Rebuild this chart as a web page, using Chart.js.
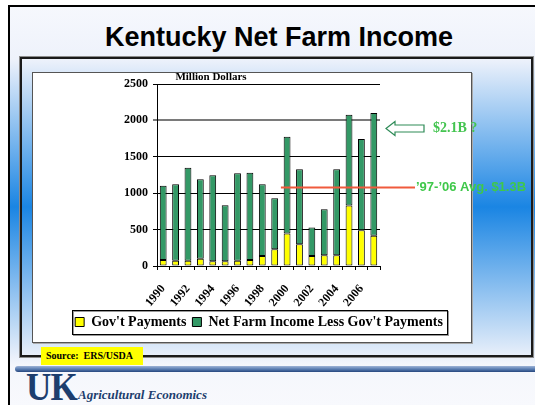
<!DOCTYPE html>
<html><head><meta charset="utf-8">
<script src="https://cdn.jsdelivr.net/npm/chart.js@4.4.0/dist/chart.umd.min.js"></script>
<style>
html,body{margin:0;padding:0;background:#fff;}
body{width:535px;height:405px;position:relative;overflow:hidden;font-family:'Liberation Serif','Times New Roman',serif;}
#slide{position:absolute;left:8px;top:5px;width:527px;height:400px;border-left:2px solid #000;border-top:2px solid #000;box-sizing:border-box;
 background:linear-gradient(to bottom,#f6f8fd 0px,#eef2fb 52px,#1a85e3 200px,#eaf0fa 350px,#f5f7fc 360px,#f8f9fd 400px);}
#panel{position:absolute;left:20px;top:57px;width:513px;height:300px;box-sizing:border-box;border:2px solid #1a1a1a;box-shadow:0 0 0 1px #8c8c8c;}
#white{position:absolute;left:32px;top:72px;width:440px;height:271px;box-sizing:border-box;background:#fff;border:1px solid #555;box-shadow:1px 1px 0 #aaa;}
#title{position:absolute;left:0;top:24px;width:558px;text-align:center;font:bold 27px/27px 'Liberation Sans',Arial,sans-serif;color:#000;}
#bar{position:absolute;left:15px;top:366px;width:520px;height:6px;border-radius:3px 0 0 3px;background:linear-gradient(to bottom,#9db3d6,#5b7fb4 50%,#27477e);}
#source{position:absolute;left:41px;top:347px;width:102px;height:18px;background:#ffff00;font:bold 10px/18px 'Liberation Serif','Times New Roman',serif;padding-left:5px;box-sizing:border-box;white-space:pre;color:#000;}
#uk{position:absolute;left:26px;top:367px;font:bold 39px/39px 'Liberation Serif','Times New Roman',serif;color:#1d3e6e;transform:scaleX(0.9);transform-origin:left top;letter-spacing:-1px;}
#ag{position:absolute;left:78px;top:388px;font:italic bold 13px/13px 'Liberation Serif','Times New Roman',serif;color:#1d3e6e;white-space:nowrap;}
canvas{position:absolute;left:0;top:0;}
</style>
</head><body>
<div id="slide"></div>
<div id="panel"></div>
<div id="white"></div>
<div id="title">Kentucky Net Farm Income</div>
<div id="bar"></div>
<div id="source">Source:  ERS/USDA</div>
<div id="uk">UK</div>
<div id="ag">Agricultural Economics</div>
<canvas id="c" width="535" height="405"></canvas>
<script>
const years = ['1990','1991','1992','1993','1994','1995','1996','1997','1998','1999','2000','2001','2002','2003','2004','2005','2006','2007'];
const govPayments = [83,73,73,100,64,64,73,83,138,229,445,298,138,147,147,830,491,417];
const netLessGov = [1018,1051,1276,1093,1184,771,1202,1197,986,702,1330,1032,390,633,1183,1248,1252,1684];
const seriesNames = ["Gov't Payments", "Net Farm Income Less Gov't Payments"];
const yMin = 0, yMax = 2500, yStep = 500;
const unitLabel = 'Million Dollars';
const avgLabel = '\u201997-\u201906 Avg. $1.3B';
const avgLineValue = 1085;
const avgLineStartIndex = 9.5;
const forecastLabel = '$2.1B ?';
const forecastArrowValue = 1895;

const serif = "'Liberation Serif','Times New Roman',serif";
const sans = "'Liberation Sans',Arial,sans-serif";

const annot = {
  id: 'annot',
  afterDraw(chart) {
    const {ctx, chartArea: a, scales: {x, y}} = chart;
    ctx.save();
    ctx.font = "bold 11px " + serif;
    ctx.fillStyle = '#000'; ctx.textAlign = 'center'; ctx.textBaseline = 'alphabetic';
    ctx.fillText(unitLabel, a.left + 54, a.top - 4);
    // legend frame
    const hb = chart.legend.legendHitBoxes;
    const l = Math.min(...hb.map(h => h.left)) - 3;
    const r = Math.max(...hb.map(h => h.left + h.width)) + 4;
    const t = Math.min(...hb.map(h => h.top)) - 5;
    const b = Math.max(...hb.map(h => h.top + h.height)) + 5;
    ctx.lineWidth = 1;
    ctx.strokeStyle = '#999'; ctx.strokeRect(Math.round(l) + 1.5, Math.round(t) + 1.5, Math.round(r - l), Math.round(b - t));
    ctx.strokeStyle = '#000'; ctx.strokeRect(Math.round(l) + 0.5, Math.round(t) + 0.5, Math.round(r - l), Math.round(b - t));
    // average line
    const yAvg = Math.round(y.getPixelForValue(avgLineValue)) + 0.5;
    ctx.strokeStyle = '#f05a3c'; ctx.lineWidth = 2;
    ctx.beginPath(); ctx.moveTo(x.getPixelForValue(avgLineStartIndex), yAvg); ctx.lineTo(a.right + 35, yAvg); ctx.stroke();
    ctx.font = "bold 13px " + sans; ctx.fillStyle = '#3fc84a'; ctx.textAlign = 'left'; ctx.textBaseline = 'middle';
    ctx.fillText(avgLabel, a.right + 36, yAvg);
    // arrow
    const yA = Math.round(y.getPixelForValue(forecastArrowValue)) + 0.5;
    const x0 = a.right + 6;
    ctx.beginPath();
    ctx.moveTo(x0, yA); ctx.lineTo(x0 + 9, yA - 7); ctx.lineTo(x0 + 9, yA - 3.5); ctx.lineTo(x0 + 38, yA - 3.5);
    ctx.lineTo(x0 + 38, yA + 3.5); ctx.lineTo(x0 + 9, yA + 3.5); ctx.lineTo(x0 + 9, yA + 7); ctx.closePath();
    ctx.fillStyle = '#fff'; ctx.fill(); ctx.strokeStyle = '#2e8b57'; ctx.lineWidth = 1.2; ctx.stroke();
    ctx.font = "bold 14px " + serif; ctx.fillStyle = '#44c450'; ctx.textAlign = 'left'; ctx.textBaseline = 'middle';
    ctx.fillText(forecastLabel, a.right + 53, yA);
    ctx.restore();
  }
};

new Chart(document.getElementById('c'), {
  type: 'bar',
  data: {
    labels: years,
    datasets: [
      {label: seriesNames[0], data: govPayments, backgroundColor: '#ffff00', borderColor: '#000', borderWidth: 1, borderSkipped: false, barPercentage: 0.55, categoryPercentage: 1},
      {label: seriesNames[1], data: netLessGov, backgroundColor: '#339966', borderColor: '#000', borderWidth: 1, borderSkipped: false, barPercentage: 0.55, categoryPercentage: 1}
    ]
  },
  options: {
    responsive: false, animation: false, devicePixelRatio: 1,
    layout: {padding: {left: 0, right: 17, top: 84, bottom: 66}},
    plugins: {
      legend: {position: 'bottom', labels: {boxWidth: 9, boxHeight: 9, padding: 6, color: '#000', font: {size: 14, weight: 'bold', family: serif}}},
      tooltip: {enabled: false}
    },
    scales: {
      x: {
        stacked: true,
        grid: {drawOnChartArea: false, drawTicks: true, tickLength: 4, color: '#000', offset: true},
        border: {color: '#000', width: 1},
        ticks: {autoSkip: false, maxRotation: 50, minRotation: 50, padding: 12, color: '#000', font: {size: 12, weight: 'bold', family: serif},
          callback: function(v, i) { return i % 2 === 0 ? this.getLabelForValue(v) : ''; }},
        afterFit: s => { s.height = 43; }
      },
      y: {
        stacked: true, min: yMin, max: yMax,
        ticks: {stepSize: yStep, padding: 5, color: '#000', font: {size: 12, weight: 'bold', family: serif}, callback: v => String(v)},
        grid: {color: c => (c.tick && c.tick.value === 2000) ? '#7a7a7a' : '#000', lineWidth: c => (c.tick && c.tick.value === 2000) ? 2 : 1, tickLength: 4, drawTicks: true},
        border: {color: '#000', width: 1},
        afterFit: s => { s.width = 157; }
      },
      y2: {
        position: 'right', display: true,
        grid: {display: false}, ticks: {display: false}, border: {display: false},
        afterFit: s => { s.width = 138; }
      }
    }
  },
  plugins: [annot]
});
</script>
</body></html>
